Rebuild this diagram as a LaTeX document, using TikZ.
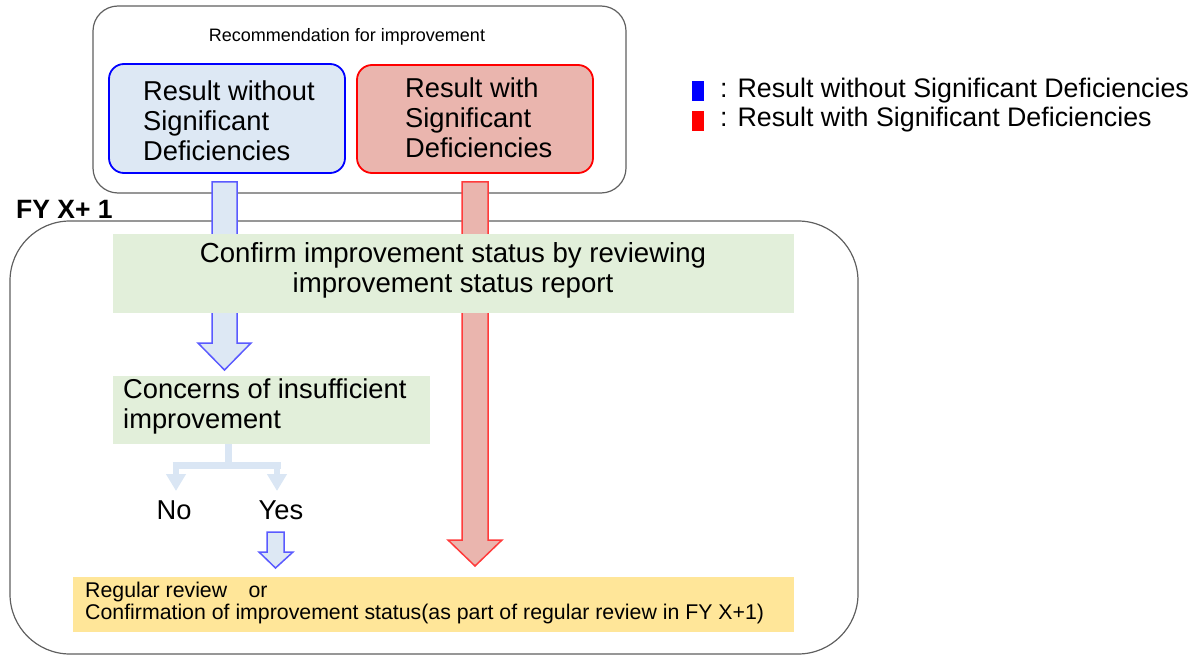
\documentclass[tikz,border=0pt]{standalone}
\usepackage{fontspec}
\setmainfont{Liberation Sans}
\usetikzlibrary{arrows.meta}
\definecolor{bluefill}{HTML}{DDE8F4}
\definecolor{redfill}{HTML}{EAB5AE}
\definecolor{greenfill}{HTML}{E2EFDA}
\definecolor{yellowfill}{HTML}{FFE699}
\definecolor{bluestroke}{HTML}{5A5AFF}
\definecolor{redstroke}{HTML}{FF3B3B}
\definecolor{branchcol}{HTML}{DAE6F4}
\definecolor{framecol}{HTML}{606060}
\begin{document}
\begin{tikzpicture}[x=1pt,y=-1pt,
  frame/.style={draw=framecol,line width=1.2pt},
  resbox/.style={rounded corners=15pt,line width=1.8pt,inner sep=0pt},
  flat/.style={inner sep=0pt,draw=none},
  bigtxt/.style={font=\fontsize{27.3}{30}\selectfont,inner sep=0pt,align=left},
  blockarrow/.style={line width=1.5pt,line join=miter},
  branch/.style={draw=branchcol,line width=7pt},
  branchtip/.style={-{Triangle[width=19pt,length=17pt]},draw=branchcol,line width=6pt}
]
\useasboundingbox (0,0) rectangle (1203,655);
% frames
\draw[frame,rounded corners=25pt] (93,6) rectangle (626,193);
\draw[frame,rounded corners=60pt] (10,221) rectangle (858,654);
\node[font=\fontsize{18}{20}\selectfont,inner sep=0pt] (rec) at (347,37) {Recommendation for improvement};
% result boxes
\node[resbox,draw=blue,fill=bluefill,minimum width=236pt,minimum height=109pt] (rwo) at (227,118.5) {};
\node[bigtxt,anchor=west] at (143,121) {Result without\\Significant\\Deficiencies};
\node[resbox,draw=red,fill=redfill,minimum width=236pt,minimum height=108pt] (rw) at (475,119) {};
\node[bigtxt,anchor=west] at (405,118) {Result with\\Significant\\Deficiencies};
% legend
\node[fill=blue,minimum width=12pt,minimum height=20pt,inner sep=0pt] (lb) at (698,91) {};
\node[font=\fontsize{26.8}{30}\selectfont,inner sep=0pt,anchor=west] (lbt) at (720,91) {: Result without Significant Deficiencies};
\node[fill=red,minimum width=12pt,minimum height=20pt,inner sep=0pt] (lr) at (698,121) {};
\node[font=\fontsize{26.8}{30}\selectfont,inner sep=0pt,anchor=west] (lrt) at (720,120) {: Result with Significant Deficiencies};
% FY label
\node[font=\fontsize{26.5}{28}\selectfont\bfseries,inner sep=0pt,anchor=west] (fy) at (16,209) {FY X+ 1};
% block arrows
\draw[blockarrow,draw=bluestroke,fill=bluefill] (212,182) -- (237,182) -- (237,343) -- (251,343) -- (224.5,370) -- (198,343) -- (212,343) -- cycle;
\draw[blockarrow,draw=redstroke,fill=redfill] (462,182) -- (488,182) -- (488,540) -- (502,540) -- (475,566) -- (448,540) -- (462,540) -- cycle;
% green boxes
\node[flat,fill=greenfill,minimum width=681pt,minimum height=79pt] (g1) at (453.5,273.5) {};
\node[bigtxt,font=\fontsize{27.6}{30}\selectfont,align=center] at (453,270) {Confirm improvement status by reviewing\\improvement status report};
\node[flat,fill=greenfill,minimum width=317pt,minimum height=68pt] (g2) at (271.5,410) {};
\node[bigtxt,anchor=west] at (123,406) {Concerns of insufficient\\improvement};
% branch
\coordinate (bj) at (228,465);
\coordinate (bl) at (176,465);
\coordinate (br) at (277,465);
\node[bigtxt] (no) at (174,510) {No};
\node[bigtxt] (yes) at (281,510) {Yes};
\draw[branch] (g2.south -| bj) -- (bj);
\draw[branch,line cap=butt] ([xshift=-3.5pt]bl) -- ([xshift=3.5pt]br);
\draw[branchtip] (bl) -- (176,491);
\draw[branchtip] (br) -- (277,491);
\draw[blockarrow,draw=bluestroke,fill=bluefill] (267,532) -- (284,532) -- (284,552) -- (293,552) -- (275.5,568) -- (259,552) -- (267,552) -- cycle;
% yellow box
\node[flat,fill=yellowfill,minimum width=721pt,minimum height=55pt] (yb) at (433.5,604.5) {};
\node[font=\fontsize{21.3}{22}\selectfont,inner sep=0pt,align=left,anchor=west] at (85,603) {Regular review\quad or\\Confirmation of improvement status(as part of regular review in FY X+1)};
\end{tikzpicture}
\end{document}
